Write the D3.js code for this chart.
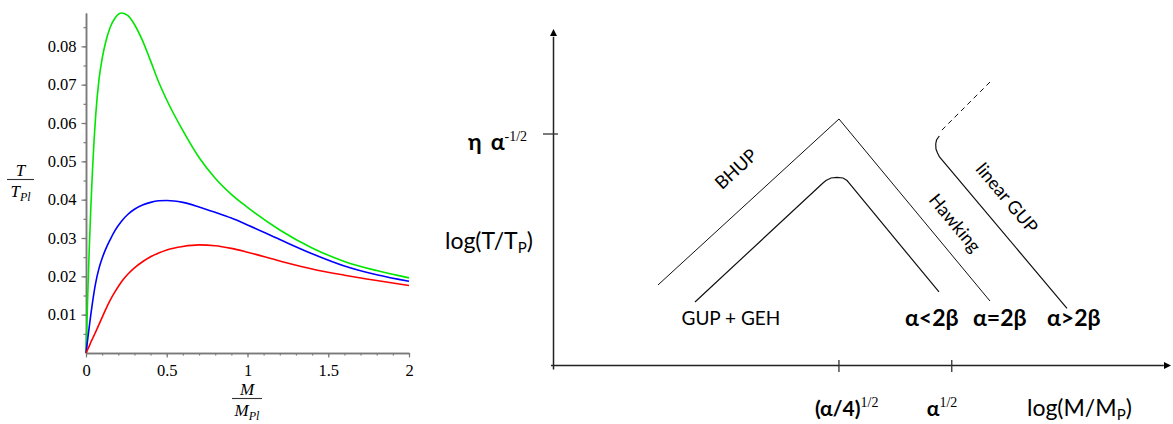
<!DOCTYPE html>
<html>
<head>
<meta charset="utf-8">
<script src="https://cdn.jsdelivr.net/npm/d3@7"></script>
<style>
  body { margin: 0; background: #fff; }
  figure { margin: 0; }
  svg { display: block; background: #fff; }
</style>
</head>
<body>
<figure></figure>
<script>

////////////////////////////////////
/////////////// Data ///////////////
////////////////////////////////////

// left plot: T/T_Pl against M/M_Pl
const mass = [0, 0.01, 0.02, 0.03, 0.04, 0.05, 0.06, 0.08, 0.1, 0.12, 0.15, 0.18, 0.22, 0.26, 0.3,
  0.35, 0.4, 0.45, 0.5, 0.6, 0.7, 0.8, 0.9, 1.0, 1.2, 1.4, 1.6, 1.8, 2.0]
const tempGreen = [0, 0.014, 0.027, 0.038, 0.0475, 0.0555, 0.062, 0.0712, 0.0768, 0.0808, 0.085, 0.0874, 0.0887, 0.088, 0.0857,
  0.0815, 0.0762, 0.0707, 0.066, 0.058, 0.051, 0.0456, 0.0414, 0.038, 0.0321, 0.0274, 0.0239, 0.0215, 0.0196]
const tempBlue = [0, 0.0034, 0.0068, 0.0101, 0.0131, 0.0159, 0.0183, 0.022, 0.0247, 0.0269, 0.0296, 0.032, 0.0344, 0.0362, 0.0375,
  0.0386, 0.0393, 0.0397, 0.0398, 0.0393, 0.0381, 0.0367, 0.0352, 0.0334, 0.0296, 0.0259, 0.0227, 0.0204, 0.0187]
const tempRed = [0, 0.0009, 0.0018, 0.0028, 0.0037, 0.0046, 0.0055, 0.0074, 0.0093, 0.0112, 0.0138, 0.016, 0.0186, 0.0206, 0.0222,
  0.0238, 0.0251, 0.0261, 0.0269, 0.0278, 0.0282, 0.028, 0.0273, 0.0263, 0.024, 0.0219, 0.0203, 0.0189, 0.0176]
const seriesColors = ['#00e600', '#0000ff', '#ff0000']

const xTicks = [0, 0.5, 1, 1.5, 2]
const xMinorTicks = d3.range(0, 21).map(i => i / 10)
const yTicks = [0.01, 0.02, 0.03, 0.04, 0.05, 0.06, 0.07, 0.08]
const yMinorTicks = d3.range(1, 18).map(i => i * 0.005)

// right sketch: abstract log units (0..100 on both axes)
const sketchXTicks = [46.3, 64.6]
const sketchYTicks = [69.0]
const bhupLine = [[16.95, 24.0], [46.31, 73.47], [70.8, 19.22]]
const gehLine = [[22.95, 18.93], [43.71, 54.4], [44.2, 55.14], [45.01, 55.89], [45.99, 56.1],
  [46.96, 55.89], [47.61, 55.14], [47.93, 54.4], [62.53, 21.91]]
const linearGupDashed = [[70.8, 84.5], [62.69, 69.6]]
const linearGupLine = [[62.58, 68.4], [62.13, 67.21], [62.0, 66.02], [62.04, 64.53], [62.29, 63.34],
  [62.61, 62.15], [83.29, 17.05]]

////////////////////////////////////
///////////// SVG Setup ////////////
////////////////////////////////////

const svg = d3.select('figure')
  .append('svg')
  .attr('width', 1173)
  .attr('height', 424)

const serif = "'Liberation Serif', 'Times New Roman', serif"
const sans = "Lato, 'Noto Sans', 'DejaVu Sans', sans-serif"
const axisGray = '#7a7a7a'

////////////////////////////////////
///////////// Left plot ////////////
////////////////////////////////////

const x = d3.scaleLinear().domain([0, 2]).range([86, 409])
const y = d3.scaleLinear().domain([0, 0.0887]).range([353, 13])

const left = svg.append('g')

function styleAxis(g, width) {
  g.select('.domain').attr('stroke', axisGray).attr('stroke-width', width)
  g.selectAll('.tick line').attr('stroke', axisGray).attr('stroke-width', 1.2)
  g.selectAll('text').attr('fill', '#000').style('font-family', serif).style('font-size', '16.5px')
}

// minor ticks
left.append('g')
  .attr('transform', `translate(0,${y(0)})`)
  .call(d3.axisBottom(x).tickValues(xMinorTicks).tickSize(2.5).tickSizeOuter(0).tickFormat(() => ''))
  .call(g => styleAxis(g, 1.5))
left.append('g')
  .attr('transform', `translate(${x(0)},0)`)
  .call(d3.axisLeft(y).tickValues(yMinorTicks).tickSize(2.5).tickSizeOuter(0).tickFormat(() => ''))
  .call(g => styleAxis(g, 1.5))

// major ticks
left.append('g')
  .attr('transform', `translate(0,${y(0)})`)
  .call(d3.axisBottom(x).tickValues(xTicks).tickSize(4.5).tickSizeOuter(0).tickPadding(7).tickFormat(d3.format('')))
  .call(g => styleAxis(g, 1.5))
left.append('g')
  .attr('transform', `translate(${x(0)},0)`)
  .call(d3.axisLeft(y).tickValues(yTicks).tickSize(4.5).tickSizeOuter(0).tickPadding(5).tickFormat(d3.format('.2f')))
  .call(g => styleAxis(g, 1.5))

// curves
const curve = d3.line()
  .x((d, i) => x(mass[i]))
  .y(d => y(d))
  .curve(d3.curveMonotoneX)

left.selectAll('path.series')
  .data([tempGreen, tempBlue, tempRed])
  .enter()
  .append('path')
  .attr('class', 'series')
  .attr('d', curve)
  .attr('fill', 'none')
  .attr('stroke', (d, i) => seriesColors[i])
  .attr('stroke-width', 1.6)

// axis titles (fractions)
function fraction(cx, top, num, den, sub, barW) {
  const g = left.append('g').style('font-family', serif).style('font-style', 'italic').attr('fill', '#000')
  g.append('text').attr('x', cx).attr('y', top).attr('text-anchor', 'middle')
    .style('font-size', '17px').text(num)
  g.append('line')
    .attr('x1', cx - barW / 2).attr('x2', cx + barW / 2)
    .attr('y1', top + 4).attr('y2', top + 4)
    .attr('stroke', '#333').attr('stroke-width', 1.1)
  const t = g.append('text').attr('x', cx).attr('y', top + 21.5).attr('text-anchor', 'middle')
    .style('font-size', '17px')
  t.append('tspan').text(den)
  t.append('tspan').attr('dy', 3.5).style('font-size', '12px').text(sub)
}
fraction(20.5, 175.5, 'T', 'T', 'Pl', 27)
fraction(247, 394.5, 'M', 'M', 'Pl', 30)

////////////////////////////////////
//////////// Right sketch //////////
////////////////////////////////////

const sx = d3.scaleLinear().domain([0, 100]).range([553.5, 1170])
const sy = d3.scaleLinear().domain([0, 100]).range([365.5, 30])

const right = svg.append('g')

// axes
right.append('line')
  .attr('x1', sx(-0.4)).attr('x2', sx(99))
  .attr('y1', sy(0)).attr('y2', sy(0))
  .attr('stroke', '#222').attr('stroke-width', 1.5)
right.append('line')
  .attr('x1', sx(0)).attr('x2', sx(0))
  .attr('y1', sy(-1.2)).attr('y2', sy(98))
  .attr('stroke', '#222').attr('stroke-width', 1.5)
right.append('path')
  .attr('d', `M${sx(0)},${sy(100) - 1} L${sx(0) - 3.5},${sy(100) + 6} L${sx(0) + 3.5},${sy(100) + 6} Z`)
  .attr('fill', '#000')
right.append('path')
  .attr('d', `M${sx(100) + 1},${sy(0)} L${sx(100) - 6},${sy(0) - 3.5} L${sx(100) - 6},${sy(0) + 3.5} Z`)
  .attr('fill', '#000')

right.selectAll('line.xtick')
  .data(sketchXTicks)
  .enter().append('line')
  .attr('class', 'xtick')
  .attr('x1', d => sx(d)).attr('x2', d => sx(d))
  .attr('y1', sy(0) - 5.5).attr('y2', sy(0) + 6.5)
  .attr('stroke', '#333').attr('stroke-width', 1.3)
right.selectAll('line.ytick')
  .data(sketchYTicks)
  .enter().append('line')
  .attr('class', 'ytick')
  .attr('x1', sx(0) - 10.5).attr('x2', sx(0) + 4.5)
  .attr('y1', d => sy(d)).attr('y2', d => sy(d))
  .attr('stroke', '#333').attr('stroke-width', 1.3)

// sketch curves
const sketchLine = d3.line().x(d => sx(d[0])).y(d => sy(d[1]))

right.append('path').attr('d', sketchLine(bhupLine))
  .attr('fill', 'none').attr('stroke', '#111').attr('stroke-width', 1)
right.append('path').attr('d', sketchLine(gehLine))
  .attr('fill', 'none').attr('stroke', '#111').attr('stroke-width', 1.2)
right.append('path').attr('d', sketchLine(linearGupDashed))
  .attr('fill', 'none').attr('stroke', '#111').attr('stroke-width', 1)
  .attr('stroke-dasharray', '5,4')
right.append('path').attr('d', sketchLine(linearGupLine))
  .attr('fill', 'none').attr('stroke', '#111').attr('stroke-width', 1.2)

// curve labels
const rotLabels = [
  { text: 'BHUP', x: 736, y: 169, angle: -42.5 },
  { text: 'Hawking', x: 955, y: 223, angle: 50.3 },
  { text: 'linear GUP', x: 1007, y: 198, angle: 50 }
]
right.selectAll('text.rot')
  .data(rotLabels)
  .enter().append('text')
  .attr('class', 'rot')
  .attr('transform', d => `translate(${d.x},${d.y}) rotate(${d.angle})`)
  .attr('text-anchor', 'middle')
  .attr('dy', '0.35em')
  .style('font-family', sans)
  .style('font-size', '18px')
  .text(d => d.text)

right.append('text')
  .attr('x', 681.5).attr('y', 325)
  .style('font-family', sans).style('font-size', '19px')
  .text('GUP + GEH')

const caseLabels = [
  { text: 'α<2β', x: 905 },
  { text: 'α=2β', x: 973 },
  { text: 'α>2β', x: 1047 }
]
right.selectAll('text.case')
  .data(caseLabels)
  .enter().append('text')
  .attr('class', 'case')
  .attr('x', d => d.x).attr('y', 326)
  .style('font-family', sans).style('font-size', '23px').style('font-weight', 700)
  .text(d => d.text)

// y axis labels
const etaLabel = right.append('text')
  .attr('x', 468).attr('y', 150)
  .style('font-family', sans).style('font-size', '23px').style('font-weight', 700)
etaLabel.append('tspan').text('η')
etaLabel.append('tspan').attr('dx', 9).text('α')
etaLabel.append('tspan').attr('dy', -9).style('font-family', serif).style('font-weight', 400)
  .style('font-size', '14px').text('-1/2')

const logT = right.append('text')
  .attr('x', 445).attr('y', 249)
  .style('font-family', sans).style('font-size', '23px')
logT.append('tspan').text('log(T/T')
logT.append('tspan').attr('dy', 4).style('font-size', '15px').text('P')
logT.append('tspan').attr('dy', -4).text(')')

// x axis labels
const tickLabel1 = right.append('text')
  .attr('x', sx(sketchXTicks[0]) - 24).attr('y', 416)
  .style('font-family', sans).style('font-size', '21px').style('font-weight', 700)
tickLabel1.append('tspan').text('(α/4)')
tickLabel1.append('tspan').attr('dy', -9).style('font-family', serif).style('font-weight', 400)
  .style('font-size', '14px').text('1/2')

const tickLabel2 = right.append('text')
  .attr('x', sx(sketchXTicks[1]) - 25).attr('y', 416)
  .style('font-family', sans).style('font-size', '21px').style('font-weight', 700)
tickLabel2.append('tspan').text('α')
tickLabel2.append('tspan').attr('dy', -9).style('font-family', serif).style('font-weight', 400)
  .style('font-size', '14px').text('1/2')

const logM = right.append('text')
  .attr('x', 1027).attr('y', 416)
  .style('font-family', sans).style('font-size', '23px')
logM.append('tspan').text('log(M/M')
logM.append('tspan').attr('dy', 4).style('font-size', '15px').text('P')
logM.append('tspan').attr('dy', -4).text(')')

</script>
</body>
</html>
